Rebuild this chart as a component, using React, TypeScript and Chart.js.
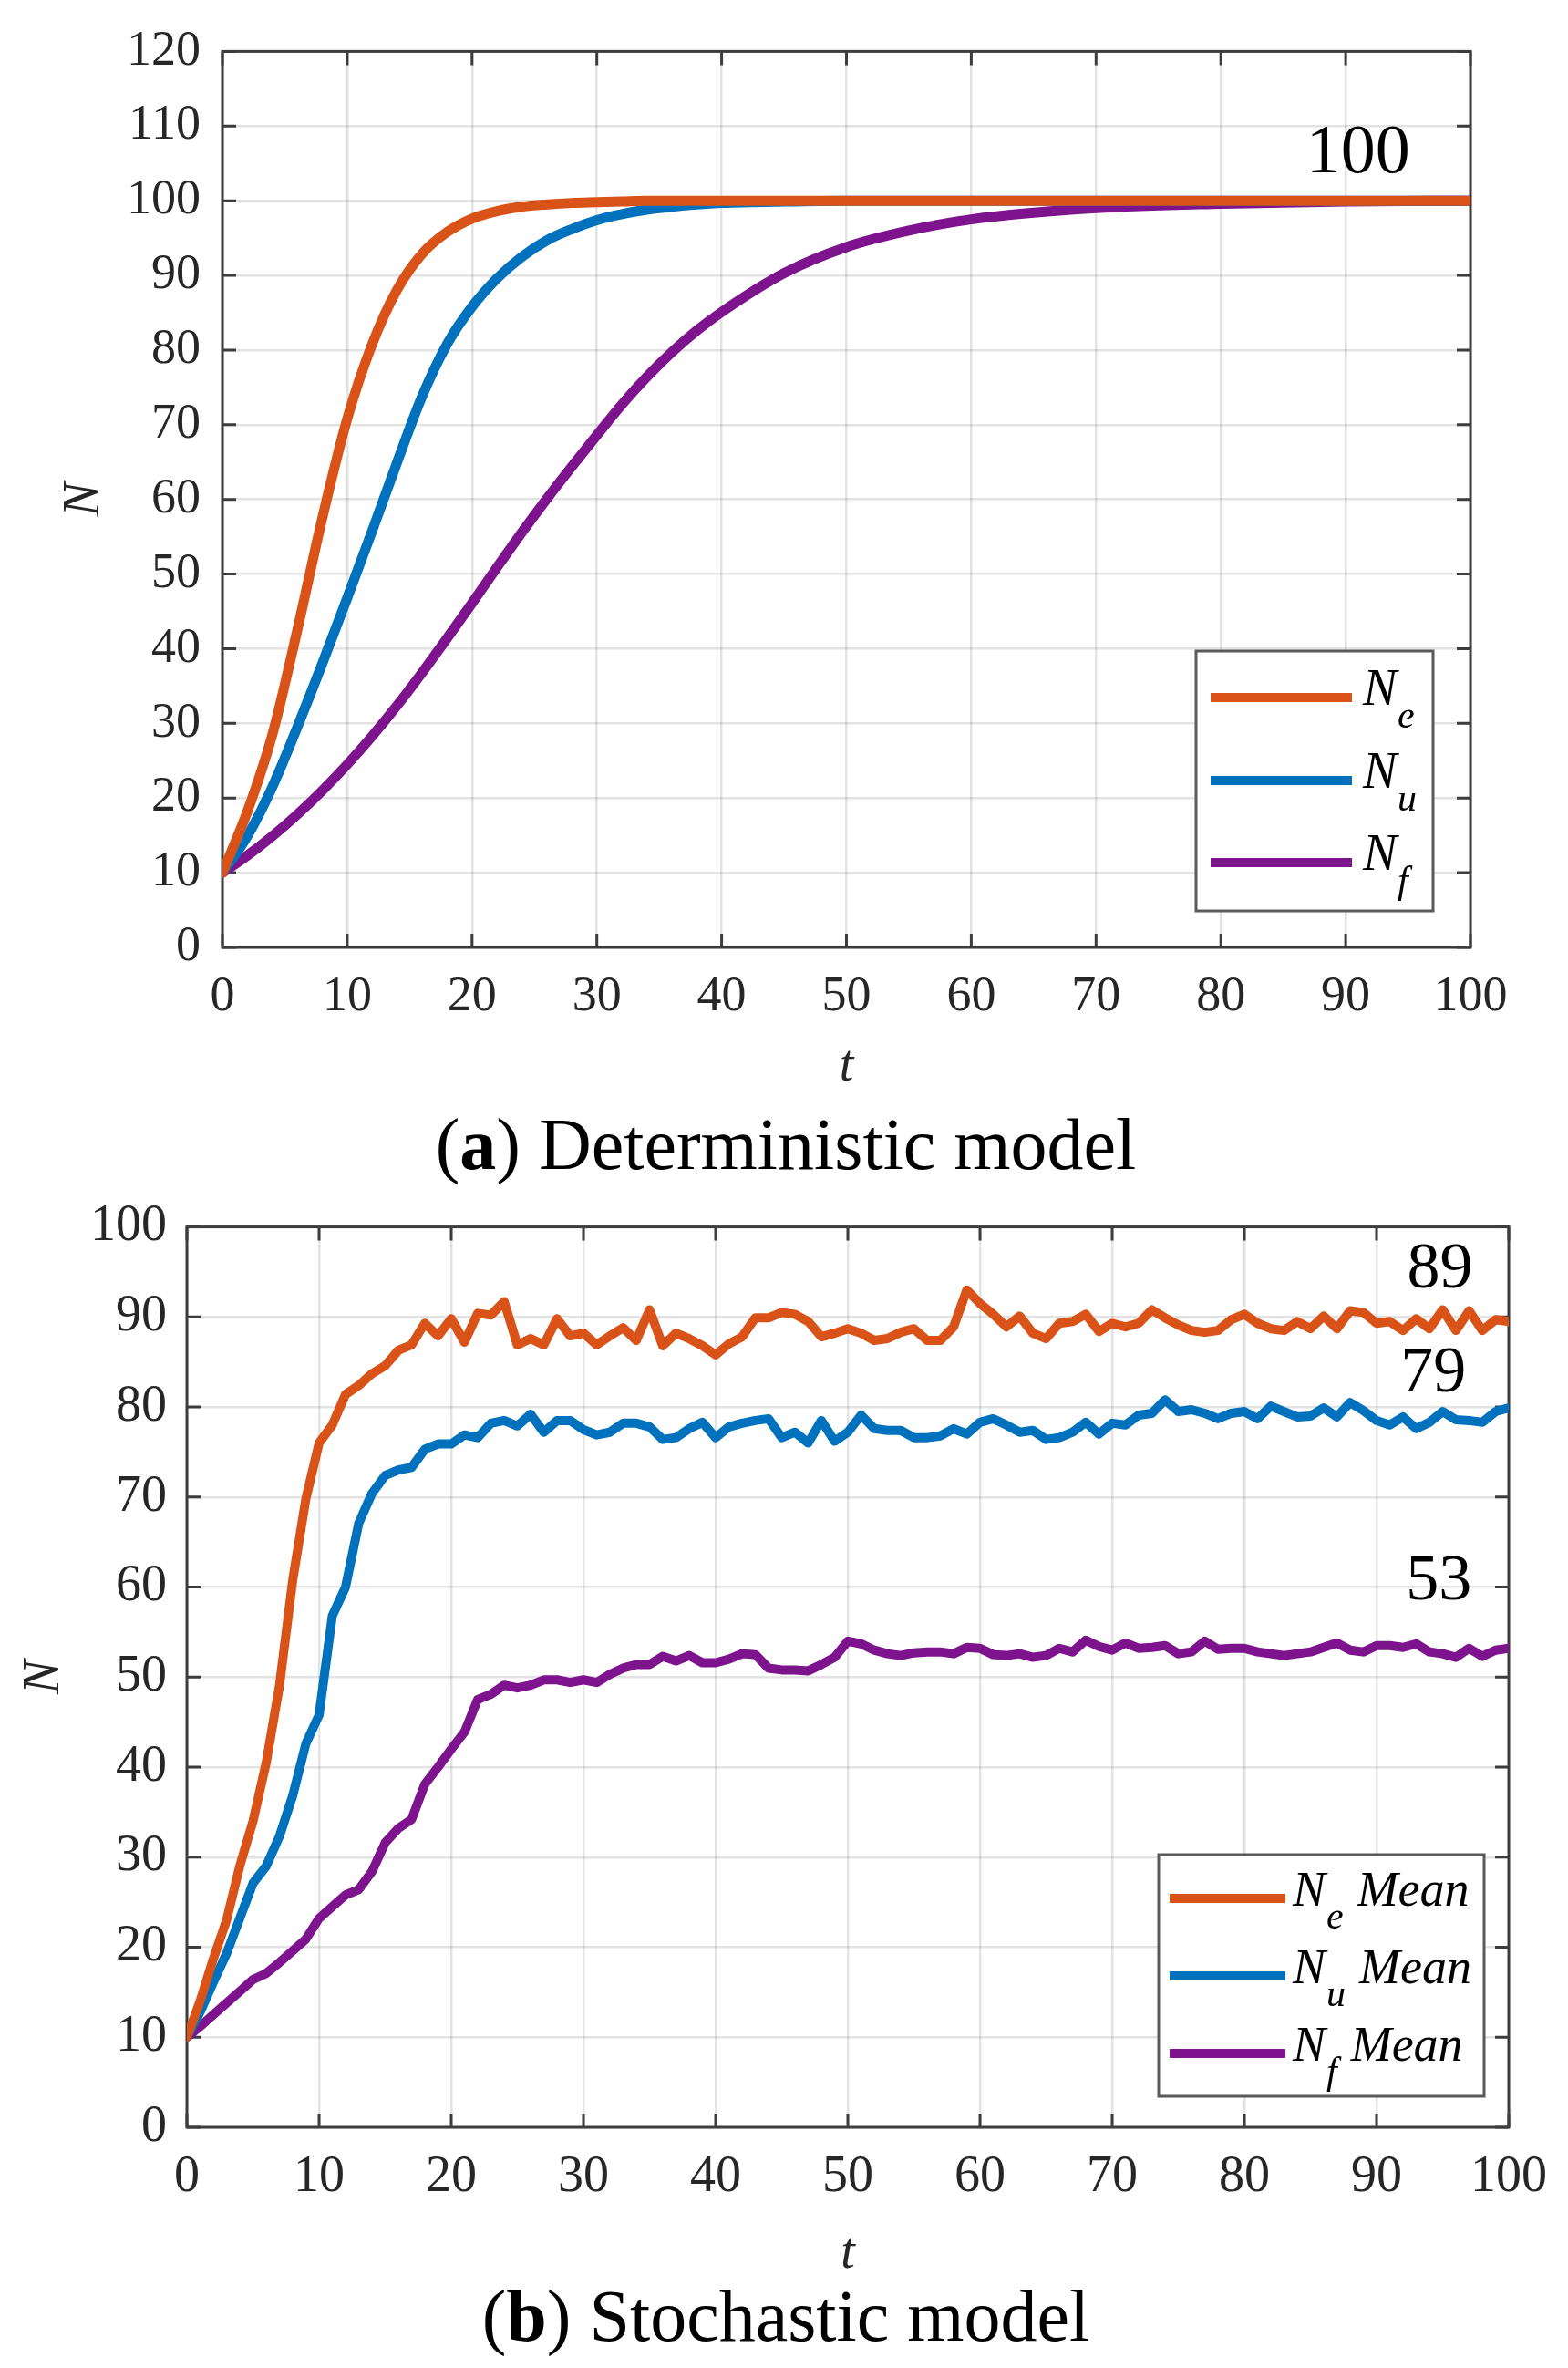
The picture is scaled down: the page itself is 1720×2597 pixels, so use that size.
import { useEffect, useRef } from "react"
import { Chart, registerables } from "chart.js"

Chart.register(...registerables)

const SERIF = '"Liberation Serif", "Times New Roman", serif'
const ORANGE = "#D95319"
const BLUE = "#0072BD"
const PURPLE = "#7E138E"
const INK = "#262626"
const AXIS = "#3d3d3d"
const GRID = "rgba(0,0,0,0.11)"

// (a) deterministic model
const detT = [0, 2, 4, 6, 8, 10, 12, 14, 16, 18, 20, 22, 24, 26, 28, 30, 32, 34, 36, 38, 40, 45, 50, 55, 60, 70, 80, 90, 100]
const detNe = [10, 18.2, 28.5, 42.5, 57.5, 70.8, 80.8, 88.1, 92.9, 95.8, 97.6, 98.6, 99.2, 99.5, 99.7, 99.8, 99.9, 100, 100, 100, 100, 100, 100, 100, 100, 100, 100, 100, 100]
const detNu = [10, 14.9, 21.5, 29.5, 38, 46.8, 55.8, 65, 73.8, 80.8, 85.8, 89.6, 92.5, 94.7, 96.2, 97.4, 98.2, 98.8, 99.2, 99.5, 99.7, 99.9, 100, 100, 100, 100, 100, 100, 100]
const detNf = [10, 12.3, 14.9, 17.8, 21, 24.5, 28.3, 32.4, 36.8, 41.4, 46.1, 50.9, 55.6, 60.1, 64.4, 68.6, 72.7, 76.4, 79.7, 82.6, 85.1, 90.3, 93.8, 96, 97.5, 99, 99.6, 99.9, 100]
const detNotes = ["100"]
const detNoteT = [91]
const detNoteN = [106.3]

// (b) stochastic model
const stoT = [
  0, 1, 2, 3, 4, 5, 6, 7, 8, 9, 10, 11, 12, 13, 14, 15, 16, 17, 18, 19, 20, 21, 22, 23, 24, 25, 26, 27, 28, 29, 30, 31, 32, 33,
  34, 35, 36, 37, 38, 39, 40, 41, 42, 43, 44, 45, 46, 47, 48, 49, 50, 51, 52, 53, 54, 55, 56, 57, 58, 59, 60, 61, 62, 63, 64, 65,
  66, 67, 68, 69, 70, 71, 72, 73, 74, 75, 76, 77, 78, 79, 80, 81, 82, 83, 84, 85, 86, 87, 88, 89, 90, 91, 92, 93, 94, 95, 96, 97,
  98, 99, 100,
]
const stoNe = [
  10, 14, 18.7, 23, 29, 34, 40.5, 49, 60.7, 69.8, 76, 78, 81.4, 82.4, 83.7, 84.6, 86.3, 86.9, 89.3, 87.9, 89.8, 87.2, 90.4, 90.2,
  91.7, 86.9, 87.6, 86.9, 89.8, 87.9, 88.2, 86.9, 87.9, 88.8, 87.4, 90.8, 86.8, 88.2, 87.6, 86.8, 85.8, 87, 87.8, 89.9, 89.9,
  90.5, 90.3, 89.5, 87.8, 88.2, 88.7, 88.2, 87.4, 87.6, 88.3, 88.7, 87.4, 87.4, 88.9, 93, 91.5, 90.3, 88.9, 90.1, 88.2, 87.6,
  89.3, 89.5, 90.3, 88.4, 89.3, 88.9, 89.3, 90.8, 89.9, 89.1, 88.5, 88.3, 88.5, 89.7, 90.3, 89.3, 88.7, 88.5, 89.5, 88.7, 90.1,
  88.7, 90.7, 90.5, 89.3, 89.5, 88.5, 89.8, 88.7, 90.8, 88.5, 90.7, 88.5, 89.7, 89.5,
]
const stoNu = [
  10, 12.8, 16.1, 19.3, 23.2, 27.1, 29, 32.3, 36.8, 42.6, 45.8, 56.8, 60, 67.1, 70.4, 72.4, 73, 73.3, 75.3, 75.9, 75.9, 76.9,
  76.6, 78.2, 78.5, 77.9, 79.2, 77.2, 78.5, 78.5, 77.5, 76.9, 77.2, 78.2, 78.2, 77.8, 76.4, 76.6, 77.6, 78.3, 76.6, 77.8, 78.2,
  78.5, 78.7, 76.6, 77.2, 76, 78.5, 76.2, 77.2, 79.1, 77.6, 77.4, 77.4, 76.6, 76.6, 76.8, 77.6, 77, 78.3, 78.7, 78, 77.2, 77.4,
  76.4, 76.6, 77.2, 78.3, 77, 78.2, 78, 79.1, 79.3, 80.8, 79.5, 79.7, 79.3, 78.7, 79.3, 79.5, 78.7, 80.1, 79.5, 78.9, 79, 79.9,
  78.9, 80.5, 79.6, 78.5, 78, 78.9, 77.6, 78.3, 79.5, 78.6, 78.5, 78.3, 79.5, 79.9,
]
const stoNf = [
  10, 11.2, 12.5, 13.8, 15.1, 16.4, 17.1, 18.3, 19.6, 20.9, 23.2, 24.5, 25.8, 26.4, 28.4, 31.6, 33.2, 34.2, 38.1, 40, 42, 43.9,
  47.5, 48.1, 49.1, 48.8, 49.1, 49.7, 49.7, 49.4, 49.7, 49.4, 50.3, 51, 51.4, 51.4, 52.3, 51.8, 52.4, 51.6, 51.6, 52, 52.6, 52.5,
  51, 50.8, 50.8, 50.7, 51.4, 52.2, 54, 53.7, 53, 52.6, 52.4, 52.7, 52.8, 52.8, 52.6, 53.3, 53.2, 52.5, 52.4, 52.6, 52.2, 52.4,
  53.2, 52.8, 54.1, 53.4, 53, 53.8, 53.2, 53.3, 53.5, 52.6, 52.8, 54, 53.1, 53.2, 53.2, 52.8, 52.6, 52.4, 52.6, 52.8, 53.3, 53.8,
  53, 52.8, 53.5, 53.5, 53.3, 53.7, 52.8, 52.6, 52.2, 53.2, 52.3, 53, 53.2,
]
const stoNotes = ["89", "79", "53"]
const stoNoteT = [94.8, 94.3, 94.7]
const stoNoteN = [95.2, 83.6, 60.6]

const seriesColors = [ORANGE, BLUE, PURPLE]
const legendSubs = ["e", "u", "f"]

interface LegendSpec {
  right: number
  bottom: number
  w: number
  h: number
  rows: number[]
  lineX0: number
  lineX1: number
  textX: number
  mainSize: number
  subSize: number
  subDx: number
  suffix: string
}

interface PanelProps {
  top: number
  height: number
  padTop: number
  padRight: number
  yWidth: number
  xHeight: number
  yMax: number
  tickSize: number
  xPad: number
  yPad: number
  t: number[]
  series: number[][]
  smooth: boolean
  lineWidth: number
  legend: LegendSpec
  notes: string[]
  noteT: number[]
  noteN: number[]
  noteSize: number
  yTitleDx: number
  xTitleDy: number
}

function Panel(p: PanelProps) {
  const ref = useRef<HTMLCanvasElement>(null)

  useEffect(() => {
    if (!ref.current) return
    const TICK = 15

    const decor = {
      id: "decor",
      beforeDatasetsDraw(chart: any) {
        const { ctx, chartArea: a, scales } = chart
        ctx.save()
        ctx.strokeStyle = AXIS
        ctx.lineWidth = 3
        ctx.beginPath()
        for (const tk of scales.x.ticks) {
          const px = scales.x.getPixelForValue(tk.value)
          ctx.moveTo(px, a.bottom)
          ctx.lineTo(px, a.bottom - TICK)
          ctx.moveTo(px, a.top)
          ctx.lineTo(px, a.top + TICK)
        }
        for (const tk of scales.y.ticks) {
          const py = scales.y.getPixelForValue(tk.value)
          ctx.moveTo(a.left, py)
          ctx.lineTo(a.left + TICK, py)
          ctx.moveTo(a.right, py)
          ctx.lineTo(a.right - TICK, py)
        }
        ctx.stroke()
        ctx.strokeRect(a.left, a.top, a.right - a.left, a.bottom - a.top)
        ctx.restore()
      },
      afterDraw(chart: any) {
        const { ctx, chartArea: a, scales } = chart
        ctx.save()

        // axis titles
        ctx.fillStyle = INK
        ctx.textAlign = "center"
        ctx.textBaseline = "middle"
        ctx.font = `italic 56px ${SERIF}`
        ctx.fillText("t", (a.left + a.right) / 2, a.bottom + p.xTitleDy)
        ctx.save()
        ctx.translate(a.left - p.yTitleDx, (a.top + a.bottom) / 2)
        ctx.rotate(-Math.PI / 2)
        ctx.fillText("N", 0, 0)
        ctx.restore()

        // end-value notes
        ctx.fillStyle = "#000"
        ctx.font = `${p.noteSize}px ${SERIF}`
        p.notes.forEach((txt, i) => {
          ctx.fillText(txt, scales.x.getPixelForValue(p.noteT[i]), scales.y.getPixelForValue(p.noteN[i]))
        })

        // legend
        const L = p.legend
        const bx = a.right - L.right - L.w
        const by = a.bottom - L.bottom - L.h
        ctx.fillStyle = "#fff"
        ctx.fillRect(bx, by, L.w, L.h)
        ctx.strokeStyle = "#5a5a5a"
        ctx.lineWidth = 3
        ctx.strokeRect(bx, by, L.w, L.h)
        ctx.textAlign = "left"
        ctx.textBaseline = "alphabetic"
        L.rows.forEach((ry, i) => {
          const ly = by + ry
          ctx.strokeStyle = seriesColors[i]
          ctx.lineWidth = 10
          ctx.beginPath()
          ctx.moveTo(bx + L.lineX0, ly)
          ctx.lineTo(bx + L.lineX1, ly)
          ctx.stroke()
          ctx.fillStyle = "#000"
          const nx = bx + L.textX
          ctx.font = `italic ${L.mainSize}px ${SERIF}`
          ctx.fillText("N", nx, ly + 8)
          ctx.font = `italic ${L.subSize}px ${SERIF}`
          const sx = nx + L.subDx
          ctx.fillText(legendSubs[i], sx, ly + 33)
          if (L.suffix) {
            const sw = ctx.measureText(legendSubs[i]).width
            ctx.font = `italic ${L.mainSize}px ${SERIF}`
            ctx.fillText(L.suffix, sx + sw + 15, ly + 8)
          }
        })
        ctx.restore()
      },
    }

    const tickFont = { family: SERIF, size: p.tickSize }
    const chart = new Chart(ref.current, {
      type: "line",
      data: {
        datasets: p.series.map((s, i) => ({
          data: s.map((v, k) => ({ x: p.t[k], y: v })),
          borderColor: seriesColors[i],
          borderWidth: p.lineWidth,
          pointRadius: 0,
          fill: false,
          cubicInterpolationMode: p.smooth ? ("monotone" as const) : ("default" as const),
          tension: 0,
          borderJoinStyle: "round" as const,
          borderCapStyle: "round" as const,
        })),
      },
      options: {
        animation: false,
        responsive: false,
        devicePixelRatio: 1,
        layout: { padding: { left: 0, top: p.padTop, right: p.padRight, bottom: 0 } },
        plugins: { legend: { display: false }, tooltip: { enabled: false } },
        scales: {
          x: {
            type: "linear",
            min: 0,
            max: 100,
            ticks: { stepSize: 10, font: tickFont, color: INK, padding: p.xPad, maxRotation: 0, autoSkip: false },
            grid: { color: GRID, lineWidth: 2.5, drawTicks: false },
            border: { display: false },
            afterFit: (s: any) => {
              s.height = p.xHeight
            },
          },
          y: {
            type: "linear",
            min: 0,
            max: p.yMax,
            ticks: { stepSize: 10, font: tickFont, color: INK, padding: p.yPad },
            grid: { color: GRID, lineWidth: 2.5, drawTicks: false },
            border: { display: false },
            afterFit: (s: any) => {
              s.width = p.yWidth
            },
          },
        },
      },
      plugins: [decor],
    })
    return () => chart.destroy()
  }, [])

  return (
    <canvas
      ref={ref}
      width={1720}
      height={p.height}
      style={{ position: "absolute", left: 0, top: p.top, width: 1720, height: p.height }}
    />
  )
}

const captionStyle = {
  position: "absolute" as const,
  left: 0,
  width: 1724,
  height: 80,
  lineHeight: "80px",
  fontSize: 80,
  fontFamily: SERIF,
  textAlign: "center" as const,
  color: "#000",
}

export default function App() {
  return (
    <div style={{ position: "absolute", left: 0, top: 0, width: 1720, height: 2597, background: "#fff" }}>
      <Panel
        top={0}
        height={1210}
        padTop={50}
        padRight={107}
        yWidth={244}
        xHeight={171}
        yMax={120}
        tickSize={54}
        xPad={22}
        yPad={24}
        t={detT}
        series={[detNe, detNu, detNf]}
        smooth={true}
        lineWidth={11}
        legend={{
          right: 41,
          bottom: 40,
          w: 260,
          h: 285,
          rows: [51, 142, 232],
          lineX0: 16,
          lineX1: 171,
          textX: 183,
          mainSize: 56,
          subSize: 42,
          subDx: 38,
          suffix: "",
        }}
        notes={detNotes}
        noteT={detNoteT}
        noteN={detNoteN}
        noteSize={76}
        yTitleDx={151}
        xTitleDy={131}
      />
      <div style={{ ...captionStyle, top: 1215 }}>
        (<b>a</b>) Deterministic model
      </div>
      <Panel
        top={1290}
        height={1220}
        padTop={48}
        padRight={65}
        yWidth={205}
        xHeight={177}
        yMax={100}
        tickSize={56}
        xPad={22}
        yPad={22}
        t={stoT}
        series={[stoNe, stoNu, stoNf]}
        smooth={false}
        lineWidth={10}
        legend={{
          right: 27,
          bottom: 34,
          w: 357,
          h: 265,
          rows: [48, 133, 218],
          lineX0: 12,
          lineX1: 139,
          textX: 147,
          mainSize: 54,
          subSize: 42,
          subDx: 37,
          suffix: "Mean",
        }}
        notes={stoNotes}
        noteT={stoNoteT}
        noteN={stoNoteN}
        noteSize={72}
        yTitleDx={156}
        xTitleDy={139}
      />
      <div style={{ ...captionStyle, top: 2500 }}>
        (<b>b</b>) Stochastic model
      </div>
    </div>
  )
}
